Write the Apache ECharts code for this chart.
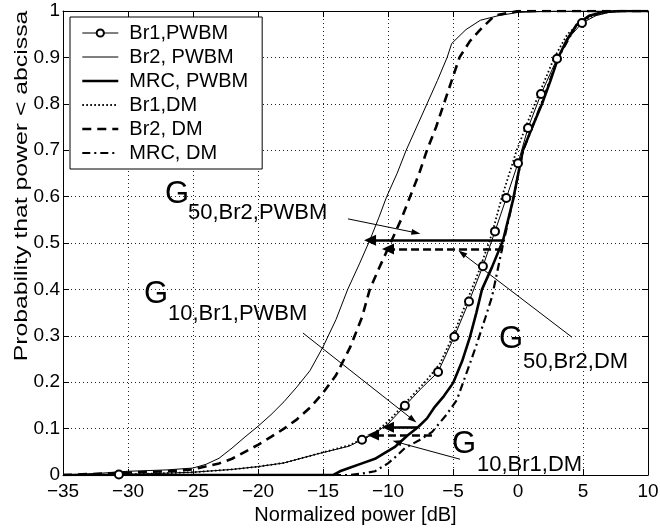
<!DOCTYPE html>
<html><head><meta charset="utf-8">
<script src="https://cdn.jsdelivr.net/npm/echarts@6/dist/echarts.min.js"></script>
<style>html,body{margin:0;padding:0;background:#fff}#c{width:660px;height:529px}</style>
</head><body><div id="c"></div>
<script>
// ---------- data ----------
const seriesNames = ['Br1,PWBM', 'Br2, PWBM', 'MRC, PWBM', 'Br1,DM', 'Br2, DM', 'MRC, DM'];

const br1Pwbm = [[-35,0],[-31,0],[-28,0.003],[-25,0.006],[-22,0.012],[-20,0.018],[-18,0.026],
  [-15.5,0.045],[-13,0.062],[-11,0.09],[-10,0.11],[-7.5,0.185],[4,0.945],[6,0.99],[7,0.997],[8,1],[10,1]];
const br1PwbmMarkers = [[-30.7,0.001],[-12,0.076],[-8.7,0.149],[-6.15,0.222],[-4.9,0.298],[-3.77,0.374],
  [-2.7,0.45],[-1.77,0.525],[-0.9,0.597],[0,0.672],[0.77,0.748],[1.77,0.821],[3.0,0.897],[4.92,0.974]];

const br2Pwbm = [[-35,0],[-32,0.004],[-30,0.008],[-27,0.011],[-25,0.015],[-24,0.023],[-23,0.036],[-22,0.058],
  [-21,0.082],[-20,0.105],[-19,0.13],[-18,0.158],[-17,0.19],[-16,0.225],[-15,0.276],[-14,0.335],[-13.1,0.4],
  [-12.2,0.455],[-11.4,0.506],[-10.7,0.555],[-10.1,0.6],[-9.3,0.65],[-8.6,0.7],[-7.8,0.75],[-7,0.8],[-6.2,0.85],
  [-5.45,0.9],[-5.1,0.93],[-4,0.96],[-2.9,0.98],[-1.5,0.99],[0,0.997],[3,1],[10,1]];

const mrcPwbm = [[-35,0],[-14.2,0],[-13.7,0.008],[-13,0.015],[-12,0.025],[-11,0.035],[-10.4,0.045],[-9.5,0.06],
  [-8.5,0.085],[-7.7,0.103],[-7,0.122],[-6.4,0.147],[-5.7,0.17],[-5,0.198],[-4.3,0.245],[-3.7,0.297],[-3.2,0.35],
  [-2.77,0.4],[-2,0.448],[-1.15,0.506],[-0.38,0.593],[0.38,0.7],[1.1,0.75],[1.85,0.8],[2.5,0.85],[3.1,0.9],
  [3.8,0.94],[4.5,0.97],[5.5,0.99],[6.5,0.998],[8,1],[10,1]];

const br1Dm = [[-35,0],[-31,0.001],[-28,0.003],[-25,0.006],[-22,0.012],[-20,0.018],[-18,0.026],[-15.5,0.045],
  [-13,0.064],[-11.15,0.088],[-10,0.115],[-9,0.145],[-8,0.175],[-7,0.205],[-6,0.24],[-5,0.3],[-4,0.37],[-3,0.44],
  [-2,0.52],[-1.23,0.6],[-0.1,0.7],[1.3,0.8],[2.8,0.9],[3.8,0.95],[5,0.98],[6,0.992],[7,0.998],[8,1],[10,1]];

const br2Dm = [[-35,0],[-30,0.005],[-27,0.008],[-25,0.012],[-23,0.025],[-22,0.035],[-21,0.05],[-20,0.065],
  [-19,0.082],[-18,0.1],[-17,0.12],[-16,0.145],[-15,0.177],[-14,0.215],[-12.9,0.276],[-12,0.34],[-11.4,0.4],
  [-10.7,0.445],[-10,0.488],[-9,0.55],[-8.3,0.6],[-7.6,0.65],[-7,0.7],[-6.3,0.75],[-5.7,0.8],[-5.1,0.85],
  [-4.5,0.9],[-3.7,0.935],[-2.9,0.96],[-1.8,0.99],[0,1],[10,1]];

const mrcDm = [[-35,0],[-13,0],[-12,0.003],[-11,0.008],[-10.6,0.015],[-10,0.025],[-9.3,0.042],[-8.7,0.058],
  [-7.6,0.075],[-6.6,0.093],[-5.5,0.13],[-4.7,0.162],[-3.7,0.24],[-3.15,0.284],[-2.5,0.34],[-2.0,0.384],
  [-1.23,0.487],[-0.38,0.593],[0.4,0.7],[1.8,0.8],[3.1,0.9],[4.5,0.97],[5.5,0.99],[7,1],[10,1]];

// arrows: [x1,y1,x2,y2] in data coordinates (tail -> head)
const gainArrowsSolid = [[-1.23,0.506,-11.38,0.506],[-7.77,0.103,-10.0,0.103]];
const gainArrowsDashed = [[-1.15,0.487,-10.0,0.487],[-6.62,0.086,-11.15,0.086]];
const pointerArrows = [[-13.08,0.552,-7.85,0.522],[-16.54,0.306,-8.08,0.119],[4.15,0.297,-4.31,0.478],[-4.46,0.034,-9.31,0.071]];

const labelMain = ['G','G','G','G'];
const labelSub = ['50,Br2,PWBM','10,Br1,PWBM','50,Br2,DM','10,Br1,DM'];

const xMin = -35, xMax = 10, xStep = 5;
const yMin = 0, yMax = 1, yStep = 0.1;
const xTitle = 'Normalized power [dB]';
const yTitle = 'Probability that power < abcissa';

// ---------- chart ----------
const FONT = "'Liberation Sans', Arial, Helvetica, sans-serif";
const chart = echarts.init(document.getElementById('c'), null, {renderer: 'canvas'});

function withMarkers(line, marks) {
  const all = line.map(p => ({value: p, symbol: 'none'}))
    .concat(marks.map(p => ({value: p})));
  all.sort((a, b) => a.value[0] - b.value[0] || a.value[1] - b.value[1]);
  return all;
}
function arrowData(list, style, head) {
  return list.map(a => [
    {coord: [a[0], a[1]], symbol: 'none', lineStyle: style},
    {coord: [a[2], a[3]], symbol: 'triangle', symbolSize: head}
  ]);
}

const tickLabel = {color: '#000', fontFamily: FONT, fontSize: 19};
const axisLine = {show: true, onZero: false, lineStyle: {color: '#000', width: 1}};
const axisTick = {show: true, inside: true, length: 6, lineStyle: {color: '#000', width: 1}};
const gridLine = {show: true, lineStyle: {color: '#222', width: 1, type: [1, 3]}};

const legendWidths = [1, 1, 2.6, 1.8, 2.6, 2.2];

const option = {
  animation: false,
  backgroundColor: '#fff',
  grid: {left: 63, right: 12, top: 11, bottom: 54, containLabel: false, outerBoundsMode: 'none'},
  xAxis: [
    {type: 'value', min: xMin, max: xMax, interval: xStep, position: 'bottom',
     axisLine, axisTick, splitLine: gridLine,
     axisLabel: {...tickLabel, margin: 7, formatter: v => String(v).replace('-', '\u2212')},
     name: xTitle, nameLocation: 'middle', nameGap: 29,
     nameTextStyle: {color: '#000', fontFamily: FONT, fontSize: 20}},
    {type: 'value', min: xMin, max: xMax, interval: xStep, position: 'top',
     axisLine, axisTick, splitLine: {show: false}, axisLabel: {show: false}}
  ],
  yAxis: [
    {type: 'value', min: yMin, max: yMax, interval: yStep, position: 'left',
     axisLine, axisTick, splitLine: gridLine,
     axisLabel: {...tickLabel, margin: 3, formatter: v => String(Math.round(v * 10) / 10)}},
    {type: 'value', min: yMin, max: yMax, interval: yStep, position: 'right',
     axisLine, axisTick, splitLine: {show: false}, axisLabel: {show: false}}
  ],
  legend: {
    orient: 'vertical', left: 70, top: 17, padding: [6, 14, 6, 11], itemGap: 4,
    itemWidth: 36, itemHeight: 9, backgroundColor: '#fff', borderColor: '#000', borderWidth: 1,
    borderRadius: 0, selectedMode: false,
    textStyle: {color: '#000', fontFamily: FONT, fontSize: 20, padding: [0, 0, 0, 6]},
    itemStyle: {opacity: 0},
    data: seriesNames.map((n, i) => i === 0
      ? {name: n, itemStyle: {opacity: 1, borderWidth: 1}, lineStyle: {width: legendWidths[i]}}
      : {name: n, lineStyle: {width: legendWidths[i]}})
  },
  series: [
    {name: seriesNames[1], type: 'line', data: br2Pwbm, symbol: 'none', z: 3,
     lineStyle: {color: '#000', width: 1}, itemStyle: {color: '#000'}},
    {name: seriesNames[4], type: 'line', data: br2Dm, symbol: 'none', z: 3,
     lineStyle: {color: '#000', width: 2.6, type: [9, 6]}, itemStyle: {color: '#000'}},
    {name: seriesNames[2], type: 'line', data: mrcPwbm, symbol: 'none', z: 3,
     lineStyle: {color: '#000', width: 2.6}, itemStyle: {color: '#000'},
     markLine: {silent: true, animation: false, label: {show: false}, emphasis: {disabled: true},
       data: arrowData(gainArrowsSolid, {color: '#000', width: 2.6, type: 'solid'}, [11, 12])
         .concat(arrowData(gainArrowsDashed, {color: '#000', width: 2.6, type: [8, 4]}, [11, 12]))
         .concat(arrowData(pointerArrows, {color: '#000', width: 1, type: 'solid'}, [6, 9]))}},
    {name: seriesNames[5], type: 'line', data: mrcDm, symbol: 'none', z: 3,
     lineStyle: {color: '#000', width: 2.2, type: [8, 4, 2, 4]}, itemStyle: {color: '#000'}},
    {name: seriesNames[3], type: 'line', data: br1Dm, symbol: 'none', z: 4,
     lineStyle: {color: '#000', width: 1.8, type: [1.6, 2.4]}, itemStyle: {color: '#000'}},
    {name: seriesNames[0], type: 'line', data: withMarkers(br1Pwbm, br1PwbmMarkers), z: 5,
     symbol: 'emptyCircle', symbolSize: 8, showSymbol: true,
     lineStyle: {color: '#000', width: 1}, itemStyle: {color: '#000', borderWidth: 1}}
  ],
  graphic: [
    {type: 'text', x: 22, y: 186, rotation: Math.PI / 2, scaleX: 1.34,
     style: {text: yTitle, fontFamily: FONT, fontSize: 18.5, fill: '#000', align: 'center', verticalAlign: 'middle'}},
    ...[[165, 193, 188, 212], [144, 293, 168, 313], [499, 338, 523, 361], [452, 443, 477, 464]].flatMap((p, i) => [
      {type: 'text', x: p[0], y: p[1] + 1,
       style: {text: labelMain[i], fontFamily: FONT, fontSize: 31, fill: '#000', align: 'left', verticalAlign: 'middle'}},
      {type: 'text', x: p[2], y: p[3] + 1,
       style: {text: labelSub[i], fontFamily: FONT, fontSize: 22, fill: '#000', align: 'left', verticalAlign: 'middle'}}
    ])
  ]
};
chart.setOption(option);
</script></body></html>
